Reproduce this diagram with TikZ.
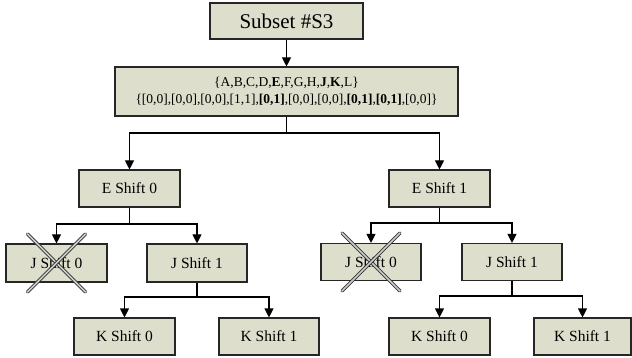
\documentclass[tikz,border=0pt]{standalone}
\usepackage{fontspec}
\setmainfont{Liberation Serif}
\usetikzlibrary{arrows.meta}
\definecolor{boxfill}{RGB}{221,223,204}
\definecolor{crossin}{RGB}{205,205,205}
\definecolor{crossout}{RGB}{50,50,50}
\tikzset{
  box/.style={draw=black!85, line width=1.1pt, fill=boxfill, inner sep=0pt, anchor=center,
              font=\fontsize{15.5}{18}\selectfont},
  arr/.style={line width=1.1pt, -{Triangle[length=9pt,width=9pt]}},
  conn/.style={line width=1.1pt},
  crossline/.style={draw=crossout, line width=0.9pt, double=crossin, double distance=1.5pt, line cap=round},
}
\begin{document}
\begin{tikzpicture}[x=1pt,y=-1pt]
\useasboundingbox (0,0) rectangle (632,358);
\node[box, minimum width=153pt, minimum height=36pt, font=\fontsize{21}{24}\selectfont] (s3) at (286.5,21) {Subset \#S3};
\node[box, minimum width=343pt, minimum height=49pt, align=center, font=\fontsize{13.5}{17}\selectfont] (big) at (286.5,91.5)
  {\{A,B,C,D,\textbf{E},F,G,H,\textbf{J},\textbf{K},L\}\\
   \{[0,0],[0,0],[0,0],[1,1],\textbf{[0,1]},[0,0],[0,0],\textbf{[0,1]},\textbf{[0,1]},[0,0]\}};
\node[box, minimum width=101pt, minimum height=37pt] (e0) at (129.5,188.5) {E Shift 0};
\node[box, minimum width=101pt, minimum height=37pt] (e1) at (439.5,188.5) {E Shift 1};
\node[box, minimum width=101pt, minimum height=38pt] (j0l) at (56.5,263) {J Shift 0};
\node[box, minimum width=100pt, minimum height=38pt] (j1l) at (197,263) {J Shift 1};
\node[box, minimum width=100pt, minimum height=37pt] (j0r) at (371,262) {J Shift 0};
\node[box, minimum width=100pt, minimum height=37pt] (j1r) at (512,262) {J Shift 1};
\node[box, minimum width=101pt, minimum height=37pt] (k0l) at (124.5,336.5) {K Shift 0};
\node[box, minimum width=100pt, minimum height=37pt] (k1l) at (269,336.5) {K Shift 1};
\node[box, minimum width=101pt, minimum height=37pt] (k0r) at (439.5,336.5) {K Shift 0};
\node[box, minimum width=97pt, minimum height=37pt] (k1r) at (582.5,336.5) {K Shift 1};
% connectors
\draw[arr] (s3.south) -- (big.north);
\coordinate (b1) at (286.5,133);
\draw[conn] (big.south) -- (b1);
\draw[arr] (b1) -| (e0.north);
\draw[arr] (b1) -| (e1.north);
\coordinate (b2) at (129.5,224);
\draw[conn] (e0.south) -- (b2);
\draw[arr] (b2) -| (j0l.north);
\draw[arr] (b2) -| (j1l.north);
\coordinate (b3) at (197,297);
\draw[conn] (j1l.south) -- (b3);
\draw[arr] (b3) -| (k0l.north);
\draw[arr] (b3) -| (k1l.north);
\coordinate (b4) at (439.5,223);
\draw[conn] (e1.south) -- (b4);
\draw[arr] (b4) -| (j0r.north);
\draw[arr] (b4) -| (j1r.north);
\coordinate (b5) at (512,296);
\draw[conn] (j1r.south) -- (b5);
\draw[arr] (b5) -| (k0r.north);
\draw[arr] (b5) -| (k1r.north);
% crosses
\draw[crossline] ([shift={(-29,-29)}]j0l.center) -- ([shift={(29,29)}]j0l.center);
\draw[crossline] ([shift={(29,-29)}]j0l.center) -- ([shift={(-29,29)}]j0l.center);
\draw[crossline] ([shift={(-29,-29)}]j0r.center) -- ([shift={(29,29)}]j0r.center);
\draw[crossline] ([shift={(29,-29)}]j0r.center) -- ([shift={(-29,29)}]j0r.center);
\end{tikzpicture}
\end{document}
